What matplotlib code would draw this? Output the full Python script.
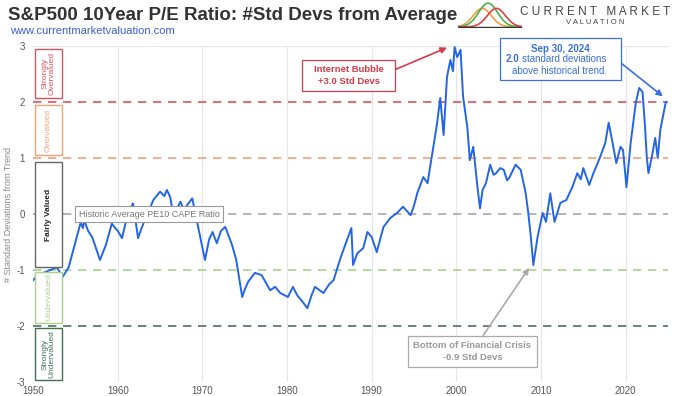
import numpy as np
import matplotlib
matplotlib.use('Agg')
import matplotlib.pyplot as plt
from matplotlib.patches import Rectangle

plt.rcParams['font.family'] = ['Liberation Sans', 'DejaVu Sans']
plt.rcParams['axes.unicode_minus'] = False

# std devs of PE10 from trend
years = [1950.0, 1950.5, 1951.2, 1952.0, 1952.8, 1953.5, 1954.2, 1955.0, 1955.6, 1955.9,
         1956.0, 1956.5, 1957.0, 1957.9, 1958.6, 1959.3, 1959.7, 1960.0, 1960.5, 1961.1,
         1961.8, 1962.4, 1962.7, 1963.2, 1963.8, 1964.2, 1965.0, 1965.5, 1965.8, 1966.2,
         1966.7, 1967.0, 1967.4, 1967.8, 1968.2, 1968.8, 1969.4, 1970.3, 1970.8, 1971.2,
         1971.7, 1972.2, 1972.7, 1973.0, 1973.5, 1974.0, 1974.7, 1975.0, 1975.4, 1976.2,
         1977.0, 1978.0, 1978.6, 1979.2, 1980.1, 1980.7, 1981.2, 1981.8, 1982.4, 1982.9,
         1983.3, 1984.3, 1985.0, 1985.5, 1986.3, 1987.1, 1987.6, 1987.8, 1988.3, 1989.0,
         1989.5, 1990.0, 1990.6, 1991.0, 1991.4, 1992.2, 1993.0, 1993.7, 1994.6, 1995.0,
         1995.4, 1996.1, 1996.6, 1997.1, 1997.7, 1998.1, 1998.5, 1998.9, 1999.3, 1999.6,
         1999.8, 2000.1, 2000.5, 2000.8, 2001.3, 2001.6, 2002.0, 2002.5, 2002.8, 2003.1,
         2003.5, 2004.0, 2004.4, 2004.7, 2005.2, 2005.6, 2006.0, 2006.3, 2007.0, 2007.6,
         2008.2, 2008.5, 2008.8, 2009.1, 2009.6, 2010.2, 2010.6, 2011.1, 2011.6, 2012.3,
         2013.0, 2013.7, 2014.3, 2014.7, 2015.0, 2015.7, 2016.2, 2017.0, 2017.6, 2018.0,
         2018.4, 2018.9, 2019.4, 2019.7, 2020.1, 2020.6, 2021.2, 2021.6, 2022.0, 2022.3,
         2022.5, 2022.7, 2023.1, 2023.5, 2023.8, 2024.1, 2024.75]
std_devs = [-1.18, -1.10, -1.05, -1.00, -0.95, -1.12, -0.95, -0.50, -0.16, -0.25,
            -0.10, -0.30, -0.42, -0.82, -0.55, -0.17, -0.25, -0.30, -0.43, -0.05,
            0.19, -0.43, -0.30, -0.10, 0.10, 0.25, 0.40, 0.32, 0.43, 0.30,
            -0.14, 0.10, 0.22, 0.08, 0.16, 0.28, -0.16, -0.82, -0.45, -0.32,
            -0.52, -0.30, -0.23, -0.35, -0.55, -0.82, -1.48, -1.35, -1.21, -1.05,
            -1.09, -1.36, -1.30, -1.41, -1.48, -1.30, -1.45, -1.56, -1.68, -1.45,
            -1.30, -1.41, -1.25, -1.18, -0.79, -0.46, -0.25, -0.91, -0.70, -0.61,
            -0.32, -0.41, -0.68, -0.45, -0.23, -0.07, 0.02, 0.13, -0.02, 0.15,
            0.38, 0.66, 0.55, 1.02, 1.59, 2.07, 1.41, 2.45, 2.75, 2.55,
            2.98, 2.80, 2.93, 2.09, 1.55, 0.96, 1.20, 0.48, 0.10, 0.43,
            0.55, 0.88, 0.70, 0.73, 0.82, 0.79, 0.60, 0.66, 0.88, 0.79,
            0.37, 0.02, -0.40, -0.91, -0.41, 0.02, -0.14, 0.37, -0.14, 0.20,
            0.25, 0.48, 0.73, 0.62, 0.82, 0.52, 0.73, 1.02, 1.27, 1.63,
            1.32, 0.91, 1.20, 1.14, 0.48, 1.27, 1.98, 2.25, 2.18, 1.55,
            1.02, 0.73, 1.02, 1.36, 1.00, 1.50, 2.00]

level_vals = [2, 1, 0, -1, -2]
level_colors = ['#d9545e', '#f0a27a', '#a8a8a8', '#a9d18e', '#4f6f5f']

zone_labels = ['Strongly\nOvervalued', 'Overvalued', 'Fairly Valued', 'Undervalued', 'Strongly\nUndervalued']
zone_lo = [2.07, 1.05, -0.95, -1.95, -2.96]
zone_hi = [2.95, 1.95, 0.93, -1.03, -2.04]
zone_colors = ['#d9545e', '#f0a27a', '#666666', '#a9d18e', '#3f6f55']

fig = plt.figure(figsize=(6.9, 3.96), dpi=100)
ax = fig.add_axes([0.048, 0.035, 0.92, 0.849])

for yr in range(1960, 2030, 10):
    ax.axvline(yr, color='#e6e6e6', lw=0.8, zorder=0)
ax.axhline(3, color='#e6e6e6', lw=0.8, zorder=0)
ax.axhline(-3, color='#e6e6e6', lw=0.8, zorder=0)

for v, c in zip(level_vals, level_colors):
    ax.axhline(v, color=c, lw=1.2, ls=(0, (5, 4)), zorder=1)

ax.plot(years, std_devs, color='#2465e6', lw=1.4, zorder=3)

# zone boxes on the left
for lab, lo, hi, c in zip(zone_labels, zone_lo, zone_hi, zone_colors):
    ax.add_patch(Rectangle((1950.25, lo), 3.15, hi - lo, fc='white', ec=c, lw=1.0, zorder=4))
    fw = 'bold' if lab == 'Fairly Valued' else 'normal'
    tc = '#222222' if lab == 'Fairly Valued' else c
    ax.text(1951.83, (lo + hi) / 2, lab, rotation=90, ha='center', va='center',
            fontsize=6, color=tc, fontweight=fw, linespacing=1.1, zorder=5)

ax.text(1963.7, 0, 'Historic Average PE10 CAPE Ratio', ha='center', va='center',
        fontsize=6.5, color='#777777', zorder=5,
        bbox=dict(boxstyle='square,pad=0.4', fc='white', ec='#999999', lw=0.8))

# internet bubble
red = '#d63a48'
ax.annotate('', xy=(1998.9, 2.97), xytext=(1992.8, 2.58),
            arrowprops=dict(arrowstyle='-|>', color=red, lw=1.2, shrinkA=0, shrinkB=0,
                            mutation_scale=9), zorder=5)
ax.add_patch(Rectangle((1981.8, 2.2), 11.0, 0.55, fc='white', ec=red, lw=0.9, zorder=5))
ax.text(1987.3, 2.475, 'Internet Bubble\n+3.0 Std Devs', ha='center', va='center',
        fontsize=6.8, color=red, fontweight='bold', linespacing=1.45, zorder=6)

ax.annotate('Bottom of Financial Crisis\n-0.9 Std Devs', xy=(2008.6, -0.96), xytext=(2001.9, -2.45),
            ha='center', va='center', fontsize=6.8, color='#999999', fontweight='bold',
            linespacing=1.4, zorder=5,
            bbox=dict(boxstyle='square,pad=0.55', fc='white', ec='#aaaaaa', lw=0.9),
            arrowprops=dict(arrowstyle='-|>', color='#aaaaaa', lw=1.2, shrinkA=0, shrinkB=0,
                            mutation_scale=9))

# latest reading
blue = '#3a6fe0'
ax.annotate('', xy=(2024.4, 2.1), xytext=(2019.0, 2.75),
            arrowprops=dict(arrowstyle='-|>', color=blue, lw=1.2, shrinkA=0, shrinkB=0,
                            mutation_scale=9), zorder=5)
ax.add_patch(Rectangle((2005.2, 2.4), 14.2, 0.74, fc='white', ec=blue, lw=0.9, zorder=5,
                       clip_on=False))
ax.text(2012.3, 2.95, 'Sep 30, 2024', ha='center', va='center', fontsize=7,
        color=blue, fontweight='bold', zorder=6)
ax.text(2005.8, 2.76, '2.0', ha='left', va='center', fontsize=7,
        color=blue, fontweight='bold', zorder=6)
ax.text(2007.8, 2.76, 'standard deviations', ha='left', va='center', fontsize=7,
        color=blue, zorder=6)
ax.text(2006.6, 2.56, 'above historical trend.', ha='left', va='center', fontsize=7,
        color=blue, zorder=6)

ax.set_xlim(1950, 2025)
ax.set_ylim(-3, 3)
ax.set_xticks(range(1950, 2030, 10))
ax.set_yticks([-3, -2, -1, 0, 1, 2, 3])
ax.tick_params(length=0, labelsize=7, labelcolor='#555555', pad=3)
ax.tick_params(axis='y', pad=6)
for s in ax.spines.values():
    s.set_visible(False)
ax.set_ylabel('# Standard Deviations from Trend', fontsize=6.5, color='#888888', labelpad=2)

fig.text(0.012, 1 - 16 / 396, 'S&P500 10Year P/E Ratio: #Std Devs from Average', fontsize=13.5,
         fontweight='bold', color='#333333', va='center',
         family=['Liberation Sans Narrow', 'Liberation Sans', 'DejaVu Sans'])
fig.text(0.014, 1 - 31 / 396, 'www.currentmarketvaluation.com', fontsize=8, color='#3b5fd0', va='center')

# logo
lax = fig.add_axes([458 / 690, (396 - 28) / 396, 64 / 690, 26 / 396])
xx = np.linspace(0, 1, 100)
lax.plot(xx, 0.78 * np.exp(-((xx - 0.38) / 0.2) ** 2), color='#f0a040', lw=1.2)
lax.plot(xx, 1.0 * np.exp(-((xx - 0.47) / 0.21) ** 2), color='#4caf50', lw=1.2)
lax.plot(xx, 0.78 * np.exp(-((xx - 0.6) / 0.2) ** 2), color='#e04040', lw=1.2)
lax.plot([0.0, 1.0], [0.0, 0.0], color='#333333', lw=1.0)
lax.set_xlim(0, 1)
lax.set_ylim(-0.05, 1.05)
lax.axis('off')
fig.text(595 / 690, 1 - 12 / 396, 'C U R R E N T   M A R K E T', fontsize=8.5, color='#444444',
         ha='center', va='center')
fig.text(595 / 690, 1 - 22 / 396, 'V A L U A T I O N', fontsize=5.5, color='#444444',
         ha='center', va='center')

fig.savefig('out.png', dpi=100, facecolor='white')
